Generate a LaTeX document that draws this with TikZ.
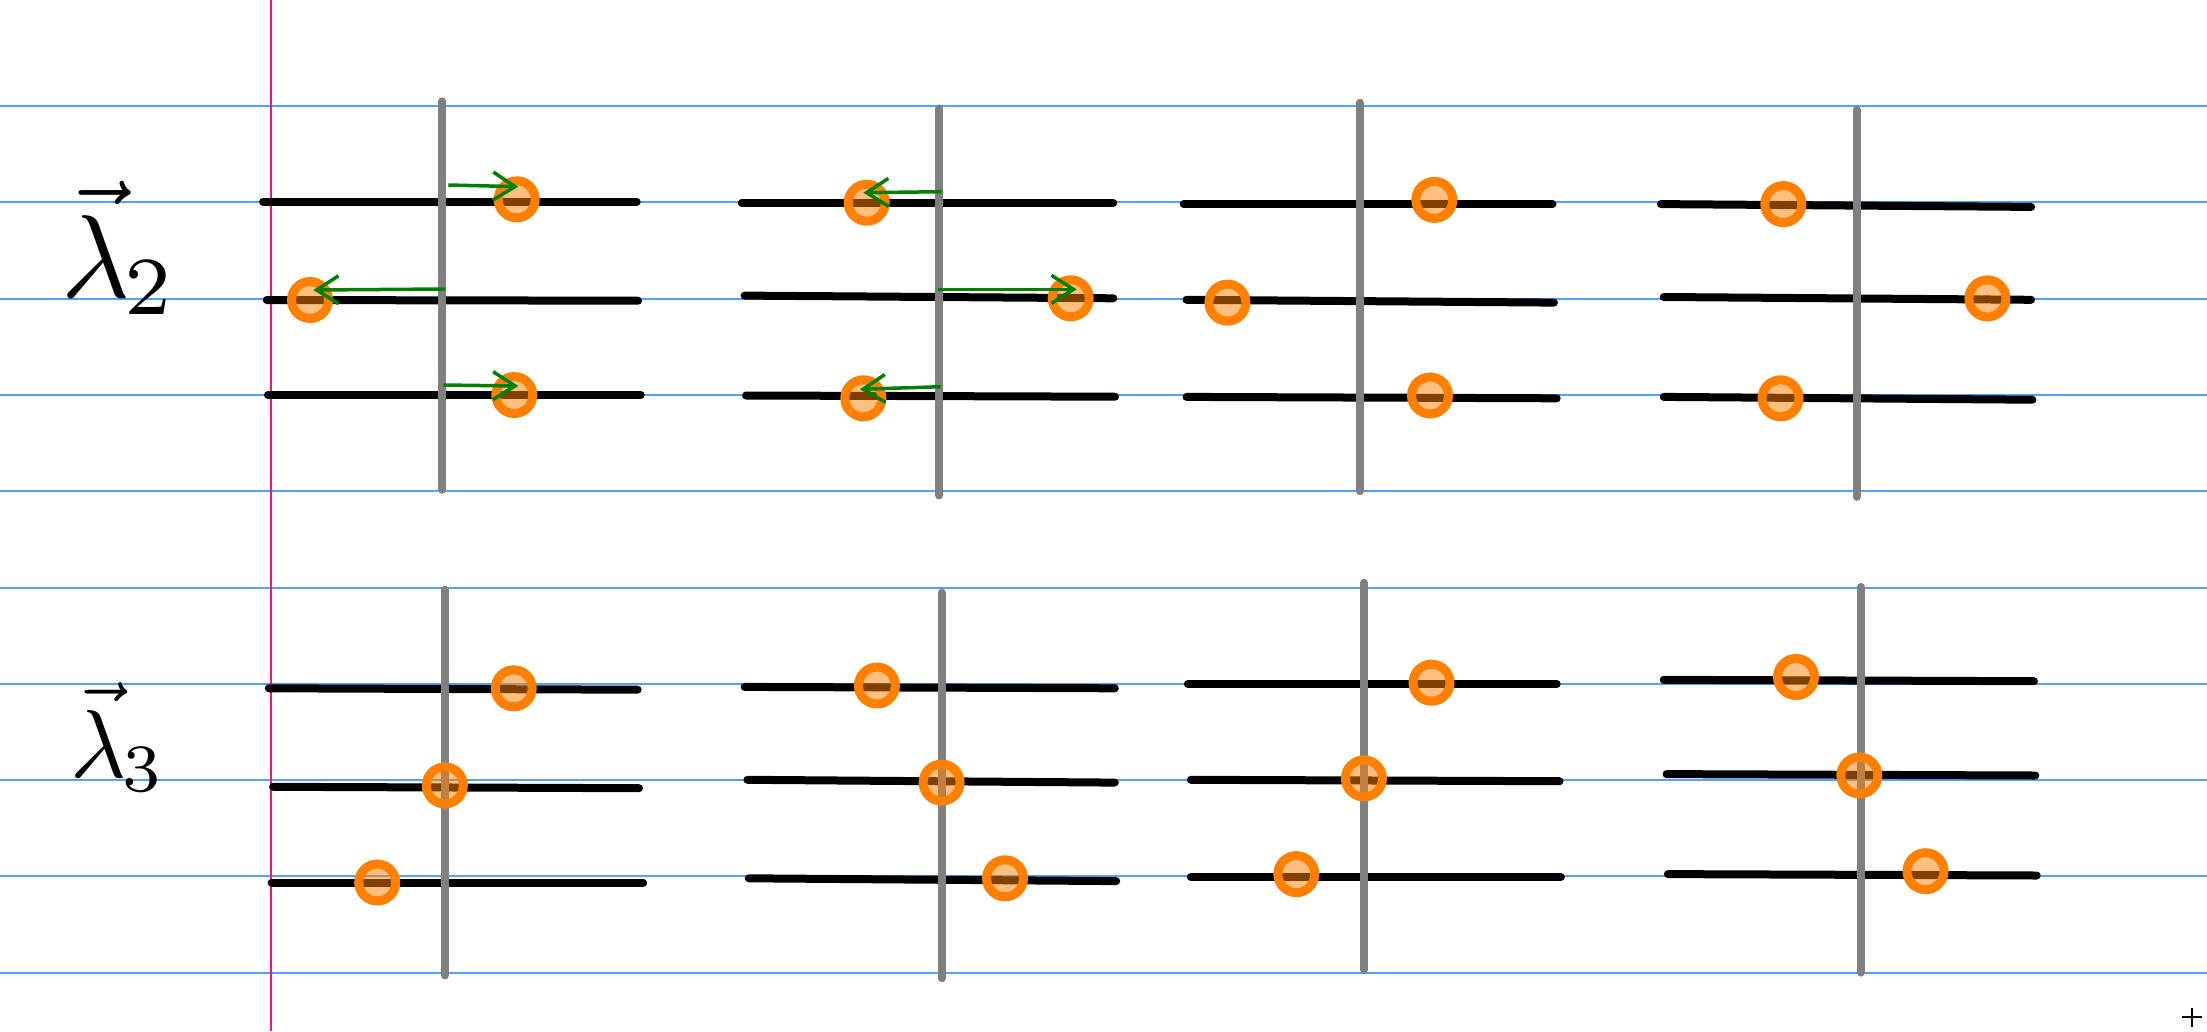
\documentclass[tikz,border=0pt]{standalone}
\usetikzlibrary{arrows.meta}
\definecolor{ruleblue}{RGB}{77,163,255}
\definecolor{marginpink}{RGB}{240,20,140}
\definecolor{beadorange}{RGB}{255,128,0}
\definecolor{pushgreen}{RGB}{0,128,0}
\definecolor{rodgray}{RGB}{128,128,128}
\begin{document}
\begin{tikzpicture}[x=1pt,y=-1pt,
  ruled/.style={draw=ruleblue,line width=2pt},
  marginline/.style={draw=marginpink,line width=2pt},
  wire/.style={draw=black,line width=8pt,line cap=round},
  rod/.style={draw=rodgray,line width=8pt,line cap=round},
  bead/.style={circle,draw=beadorange,line width=9pt,fill=beadorange,fill opacity=0.5,minimum size=37pt,inner sep=0pt},
  push/.style={draw=pushgreen,line width=3.5pt,-{Straight Barb[length=22pt,width=28pt]}},
  lab/.style={anchor=base west,inner sep=0pt}]
\useasboundingbox (0,0) rectangle (2207,1031);
\fill[white] (0,0) rectangle (2207,1031);
% ruled paper
\foreach \k in {0,...,9} \draw[ruled] (0,{106+96.3*\k}) -- (2207,{106+96.3*\k});
\draw[marginline] (270.5,0) -- (270.5,1031);
% labels
\node[lab,scale=11.8] (l2) at (59,297) {$\vec{\lambda}_{\mkern-1mu 2}$};
\node[lab,scale=9.65] (l3) at (69,777) {$\vec{\lambda}_{\mkern-1mu 3}$};
% ---------- top row: wires ----------
\draw[wire] (263,201.7) -- (636.7,201.7);
\draw[wire] (266.7,300) -- (638,300.7);
\draw[wire] (268,395) -- (640.7,395);
\draw[wire] (741.8,202.7) -- (1113.3,202.7);
\draw[wire] (744.6,295.6) -- (1113.3,298.3);
\draw[wire] (746,395.5) -- (1115,396.7);
\draw[wire] (1183.7,204.1) -- (1552.5,204.1);
\draw[wire] (1186.5,299.8) -- (1553.9,302.6);
\draw[wire] (1186.5,396.9) -- (1556.7,398.3);
\draw[wire] (1660.9,204.1) -- (2031.1,206.9);
\draw[wire] (1663.7,297.0) -- (2031.1,299.8);
\draw[wire] (1663.7,396.9) -- (2032.4,399.7);
% top row: rods
\draw[rod] (442.3,101.3) -- (442.3,489.8);
\draw[rod] (939.3,108.4) -- (939.3,495.4);
\draw[rod] (1359.7,102.7) -- (1359.7,491.2);
\draw[rod] (1856.5,109.8) -- (1856.5,496.9);
% ---------- bottom row: wires ----------
\draw[wire] (268.8,688.3) -- (637.6,689.7);
\draw[wire] (273.1,786.8) -- (639.0,788.2);
\draw[wire] (271.6,882.5) -- (643.2,882.5);
\draw[wire] (744.6,686.9) -- (1114.8,688.3);
\draw[wire] (747.4,779.8) -- (1114.8,782.6);
\draw[wire] (748.8,878.3) -- (1116.2,881.1);
\draw[wire] (1187.9,684.1) -- (1556.7,684.1);
\draw[wire] (1190.8,779.8) -- (1559.5,781.2);
\draw[wire] (1190.8,876.9) -- (1560.9,876.9);
\draw[wire] (1663.7,679.8) -- (2033.9,681.2);
\draw[wire] (1666.5,774.1) -- (2035.3,775.5);
\draw[wire] (1667.9,874.1) -- (2036.7,875.5);
% bottom row: rods
\draw[rod] (444.8,589.7) -- (444.8,975.4);
\draw[rod] (941.6,592.6) -- (941.6,978.2);
\draw[rod] (1363.9,582.7) -- (1363.9,969.8);
\draw[rod] (1860.7,586.9) -- (1860.7,972.6);
% ---------- beads top ----------
\node[bead] (t1a) at (516.7,199.3) {};
\node[bead] (t1b) at (310,300) {};
\node[bead] (t1c) at (514.3,395) {};
\node[bead] (t2a) at (866.7,202.7) {};
\node[bead] (t2b) at (1070.7,298.3) {};
\node[bead] (t2c) at (863.3,398.3) {};
\node[bead] (t3a) at (1434.3,199.9) {};
\node[bead] (t3b) at (1227.4,302.6) {};
\node[bead] (t3c) at (1430.0,395.5) {};
\node[bead] (t4a) at (1783.3,204.1) {};
\node[bead] (t4b) at (1987.4,298.4) {};
\node[bead] (t4c) at (1780.5,398.3) {};
% ---------- beads bottom ----------
\node[bead] (u1a) at (513.7,688.3) {};
\node[bead] (u1b) at (444.8,785.4) {};
\node[bead] (u1c) at (377.2,882.5) {};
\node[bead] (u2a) at (876.9,685.5) {};
\node[bead] (u2b) at (941.6,782.6) {};
\node[bead] (u2c) at (1005.0,878.3) {};
\node[bead] (u3a) at (1431.5,682.7) {};
\node[bead] (u3b) at (1363.9,778.4) {};
\node[bead] (u3c) at (1296.3,874.1) {};
\node[bead] (u4a) at (1796.0,677.0) {};
\node[bead] (u4b) at (1859.3,775.5) {};
\node[bead] (u4c) at (1925.5,871.2) {};
% ---------- push arrows ----------
\coordinate (s1a) at (448.3,185);   \coordinate (e1a) at (518.3,186.7);
\coordinate (s1b) at (445,289);     \coordinate (e1b) at (313.3,290);
\coordinate (s1c) at (443.3,385);   \coordinate (e1c) at (518.3,386);
\coordinate (s2a) at (941.7,191.7); \coordinate (e2a) at (863.3,192.7);
\coordinate (s2b) at (938.3,289.3); \coordinate (e2b) at (1076.7,289.3);
\coordinate (s2c) at (940.7,386.7); \coordinate (e2c) at (860,389.3);
\draw[push] (s1a) -- (e1a);
\draw[push] (s1b) -- (e1b);
\draw[push] (s1c) -- (e1c);
\draw[push] (s2a) -- (e2a);
\draw[push] (s2b) -- (e2b);
\draw[push] (s2c) -- (e2c);
% cursor mark
\draw[line width=2pt] (2182,1017.3) -- (2201.5,1017.3);
\draw[line width=2pt] (2191.7,1008) -- (2191.7,1027);
\end{tikzpicture}
\end{document}
